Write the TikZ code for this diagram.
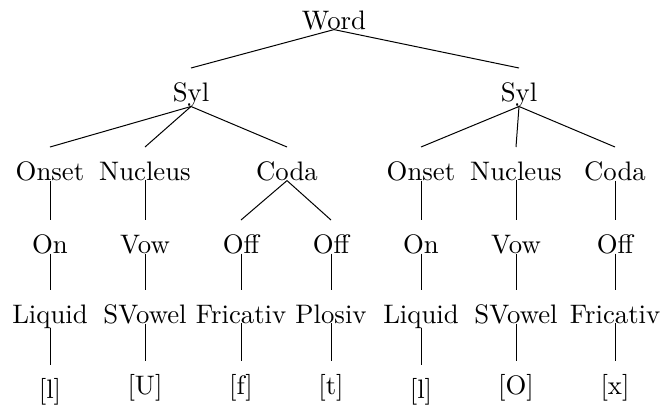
\documentclass[tikz,border=0pt]{standalone}
\begin{document}
\begin{tikzpicture}[x=0.4pt,y=-0.4pt,
  tnode/.style={inner sep=0pt, outer sep=0pt, anchor=base, font=\fontsize{10.7}{12.8}\selectfont},
  edge/.style={draw, line width=0.4pt}]
\useasboundingbox (0,0) rectangle (667,407);
% level 1
\node[tnode] (W) at (334,29) {Word};
% level 2
\node[tnode] (S1) at (191,101) {Syl};
\node[tnode] (S2) at (519,101) {Syl};
% level 3
\node[tnode] (On1) at (50,180) {Onset};
\node[tnode] (Nu1) at (145,180) {Nucleus};
\node[tnode] (Co1) at (287,180) {Coda};
\node[tnode] (On2) at (421,180) {Onset};
\node[tnode] (Nu2) at (516,180) {Nucleus};
\node[tnode] (Co2) at (615,180) {Coda};
% level 4
\node[tnode] (o1) at (50,253) {On};
\node[tnode] (v1) at (145,253) {Vow};
\node[tnode] (fa) at (241,253) {Off};
\node[tnode] (fb) at (331,253) {Off};
\node[tnode] (o2) at (421,253) {On};
\node[tnode] (v2) at (516,253) {Vow};
\node[tnode] (f2) at (615,253) {Off};
% level 5
\node[tnode] (l1) at (50,323) {Liquid};
\node[tnode] (s1) at (145,323) {SVowel};
\node[tnode] (ra) at (241,323) {Fricativ};
\node[tnode] (pb) at (331,323) {Plosiv};
\node[tnode] (l2) at (421,323) {Liquid};
\node[tnode] (s2) at (516,323) {SVowel};
\node[tnode] (r2) at (615,323) {Fricativ};
% level 6
\node[tnode] (p1) at (50,398) {[l]};
\node[tnode] (p2) at (145,394) {[U]};
\node[tnode] (p3) at (241,394) {[f]};
\node[tnode] (p4) at (331,394) {[t]};
\node[tnode] (p5) at (421,398) {[l]};
\node[tnode] (p6) at (516,394) {[O]};
\node[tnode] (p7) at (615,394) {[x]};
% edges
\foreach \a/\b in {W/S1,W/S2,
  S1/On1,S1/Nu1,S1/Co1,S2/On2,S2/Nu2,S2/Co2,
  On1/o1,Nu1/v1,Co1/fa,Co1/fb,On2/o2,Nu2/v2,Co2/f2,
  o1/l1,v1/s1,fa/ra,fb/pb,o2/l2,v2/s2,f2/r2,
  l1/p1,s1/p2,ra/p3,pb/p4,l2/p5,s2/p6,r2/p7}
  \draw[edge] (\a.south) -- ([yshift=13.2pt]\b.base);
\end{tikzpicture}
\end{document}
